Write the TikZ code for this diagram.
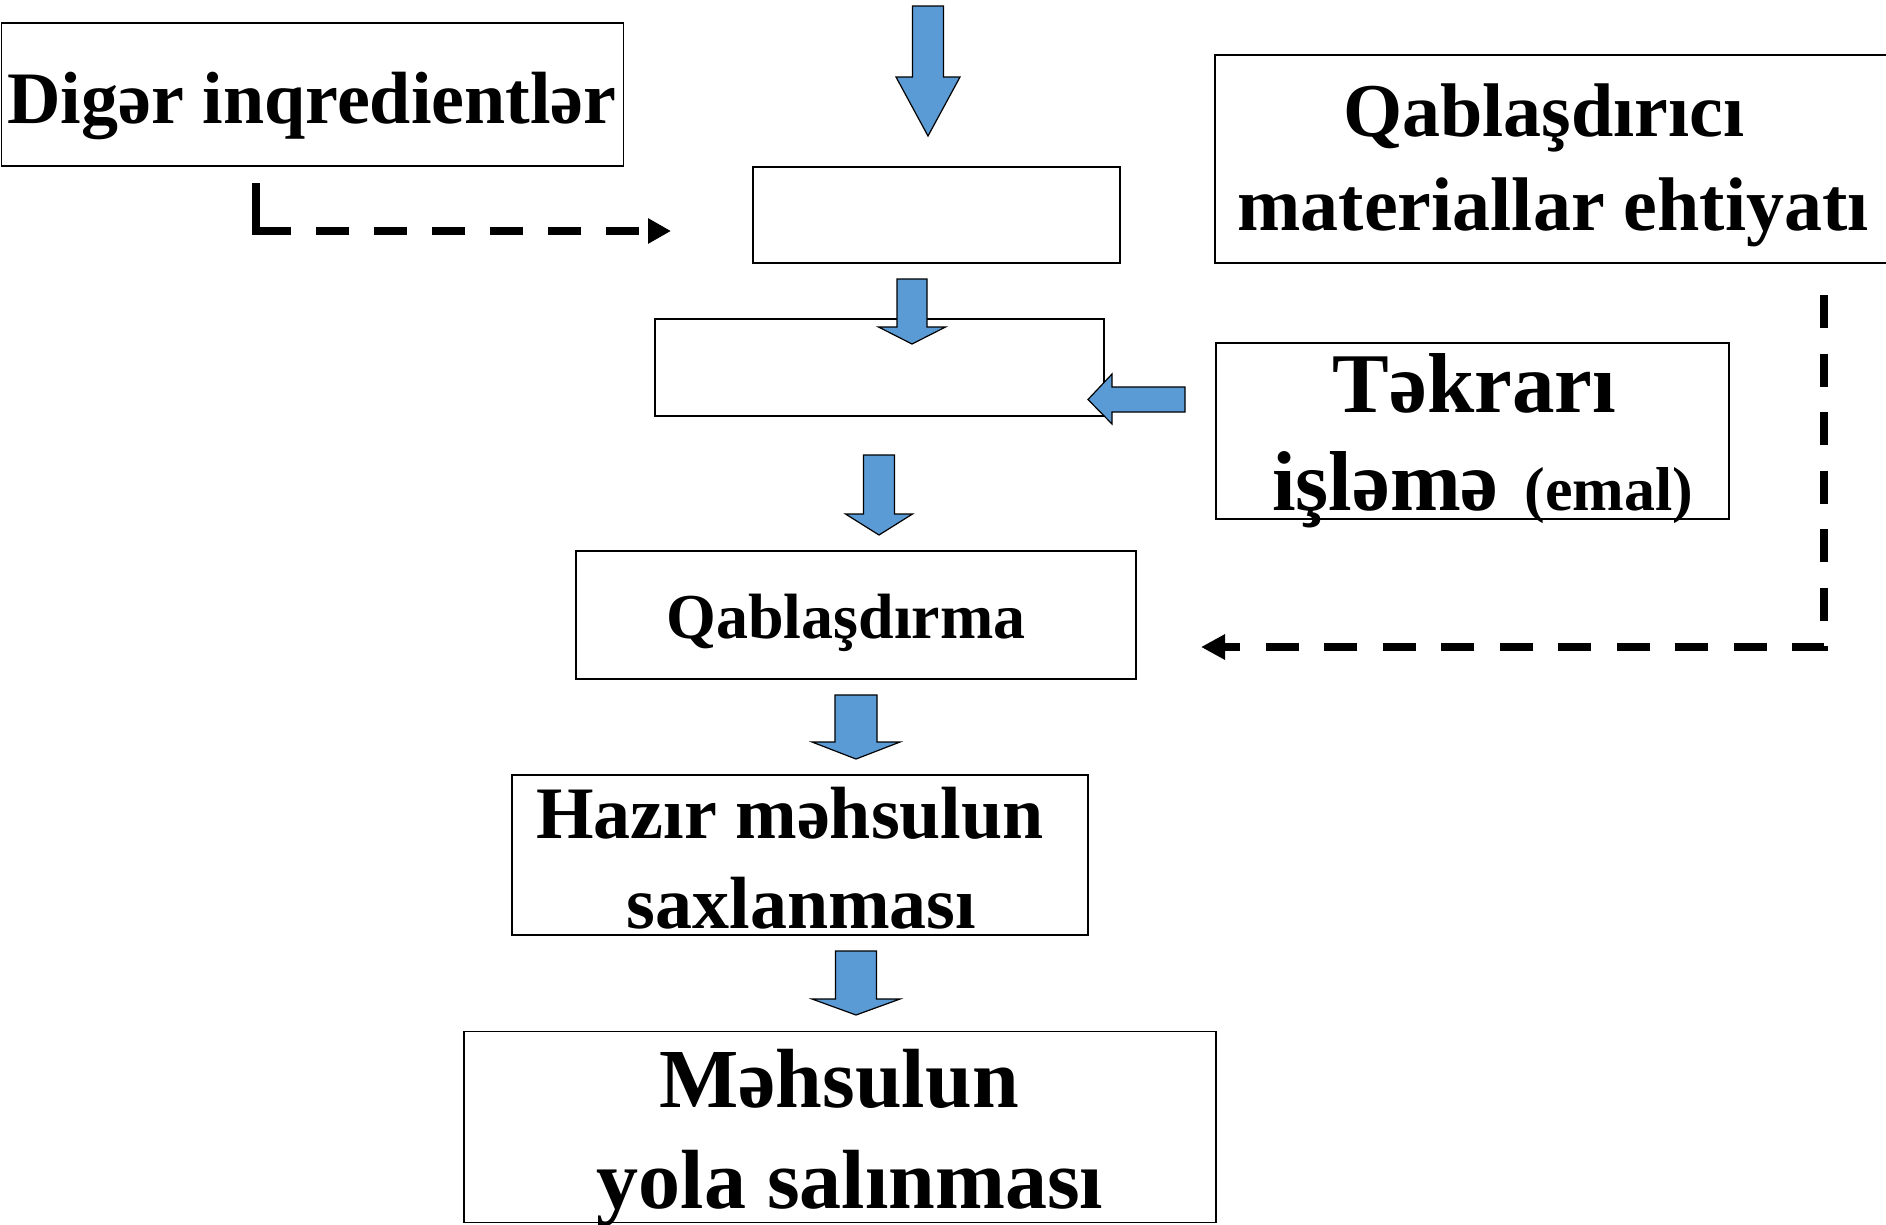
\documentclass[tikz,border=0pt]{standalone}
\usepackage{fontspec}
\setmainfont{Liberation Serif}
\usetikzlibrary{arrows.meta}
\definecolor{blu}{HTML}{5B9BD5}
\newcommand\fsz[1]{\fontsize{#1}{#1}\selectfont\bfseries}
\tikzset{
  box/.style={draw=black, line width=1.5pt, inner sep=0pt, outer sep=0pt, fill=none},
  lbl/.style={anchor=base, inner sep=0pt, outer sep=0pt},
  blk/.style={fill=blu, draw=black, line width=1.2pt, line join=miter},
  dashlink/.style={line width=8.5pt, line cap=butt, line join=miter},
}
\newcommand\blkdown[6]{% cx top base tip shafthalf headhalf
  \draw[blk] (#1-#5,#2) -- (#1+#5,#2) -- (#1+#5,#3) -- (#1+#6,#3) -- (#1,#4) -- (#1-#6,#3) -- (#1-#5,#3) -- cycle;}
\begin{document}
\begin{tikzpicture}[x=1pt,y=-1pt]
\useasboundingbox (0,0) rectangle (1886,1224);
% boxes
\node[box, minimum width=622pt, minimum height=143pt] (dig) at (312.5,94.5) {};
\node[box, minimum width=367pt, minimum height=96pt] (b2) at (936.5,215) {};
\node[box, minimum width=685pt, minimum height=208pt] (qdm) at (1557.5,159) {};
\node[box, minimum width=449pt, minimum height=97pt] (b3) at (879.5,367.5) {};
\node[box, minimum width=513pt, minimum height=176pt] (tek) at (1472.5,431) {};
\node[box, minimum width=560pt, minimum height=128pt] (qab) at (856,615) {};
\node[box, minimum width=576pt, minimum height=160pt] (haz) at (800,855) {};
\node[box, minimum width=752pt, minimum height=191pt] (meh) at (840,1127) {};
% labels
\node[lbl, font={\fsz{74}}] (tdig) at (312,123) {Digər inqredientlər};
\node[lbl, font={\fsz{76}}] (tq1) at (1544,136) {Qablaşdırıcı};
\node[lbl, font={\fsz{76}}] (tq2) at (1553,230) {materiallar ehtiyatı};
\node[lbl, font={\fsz{85}}] (tt1) at (1474.5,412) {Təkrarı};
\node[lbl, anchor=base west, font={\fsz{85}}] (tt2) at (1272,510) {işləmə\hspace{26pt}{\fsz{62}(emal)}};
\node[lbl, font={\fsz{64}}] (tqab) at (846,638) {Qablaşdırma};
\node[lbl, anchor=base west, font={\fsz{74}}] (th1) at (536,838) {Hazır məhsulun};
\node[lbl, font={\fsz{74}}] (th2) at (801.5,928) {saxlanması};
\node[lbl, font={\fsz{84}}] (tm1) at (839,1107) {Məhsulun};
\node[lbl, font={\fsz{84}}] (tm2) at (850,1208) {yola salınması};
% block arrows
\blkdown{928}{6}{77}{136}{15.5}{32}
\blkdown{912}{279}{327}{344}{15}{33.5}
\blkdown{879}{455}{514}{535}{15.5}{33.5}
\blkdown{856}{695}{742}{759}{21}{44}
\blkdown{856}{951}{999}{1015}{20.5}{44}
\draw[blk] (1185,387) -- (1112,387) -- (1112,374) -- (1088,399.5) -- (1112,424) -- (1112,412) -- (1185,412) -- cycle;
% dashed connectors
\coordinate (d1) at (256,183);
\coordinate (d2) at (671,231);
\draw[dashlink, -{Triangle[length=23pt,width=24pt]},
  dash pattern=on 83pt off 25pt on 33pt off 25pt on 33pt off 25pt on 33pt off 25pt on 33pt off 25pt on 33pt off 25pt on 33pt off 25pt on 33pt off 25pt]
  (d1) |- (d2);
\coordinate (e1) at (1824,295);
\coordinate (e2) at (1201,647);
\draw[dashlink, line width=8pt, -{Triangle[length=24pt,width=24pt]},
  dash pattern=on 33pt off 25.5pt]
  (e1) |- (e2);
\end{tikzpicture}
\end{document}
